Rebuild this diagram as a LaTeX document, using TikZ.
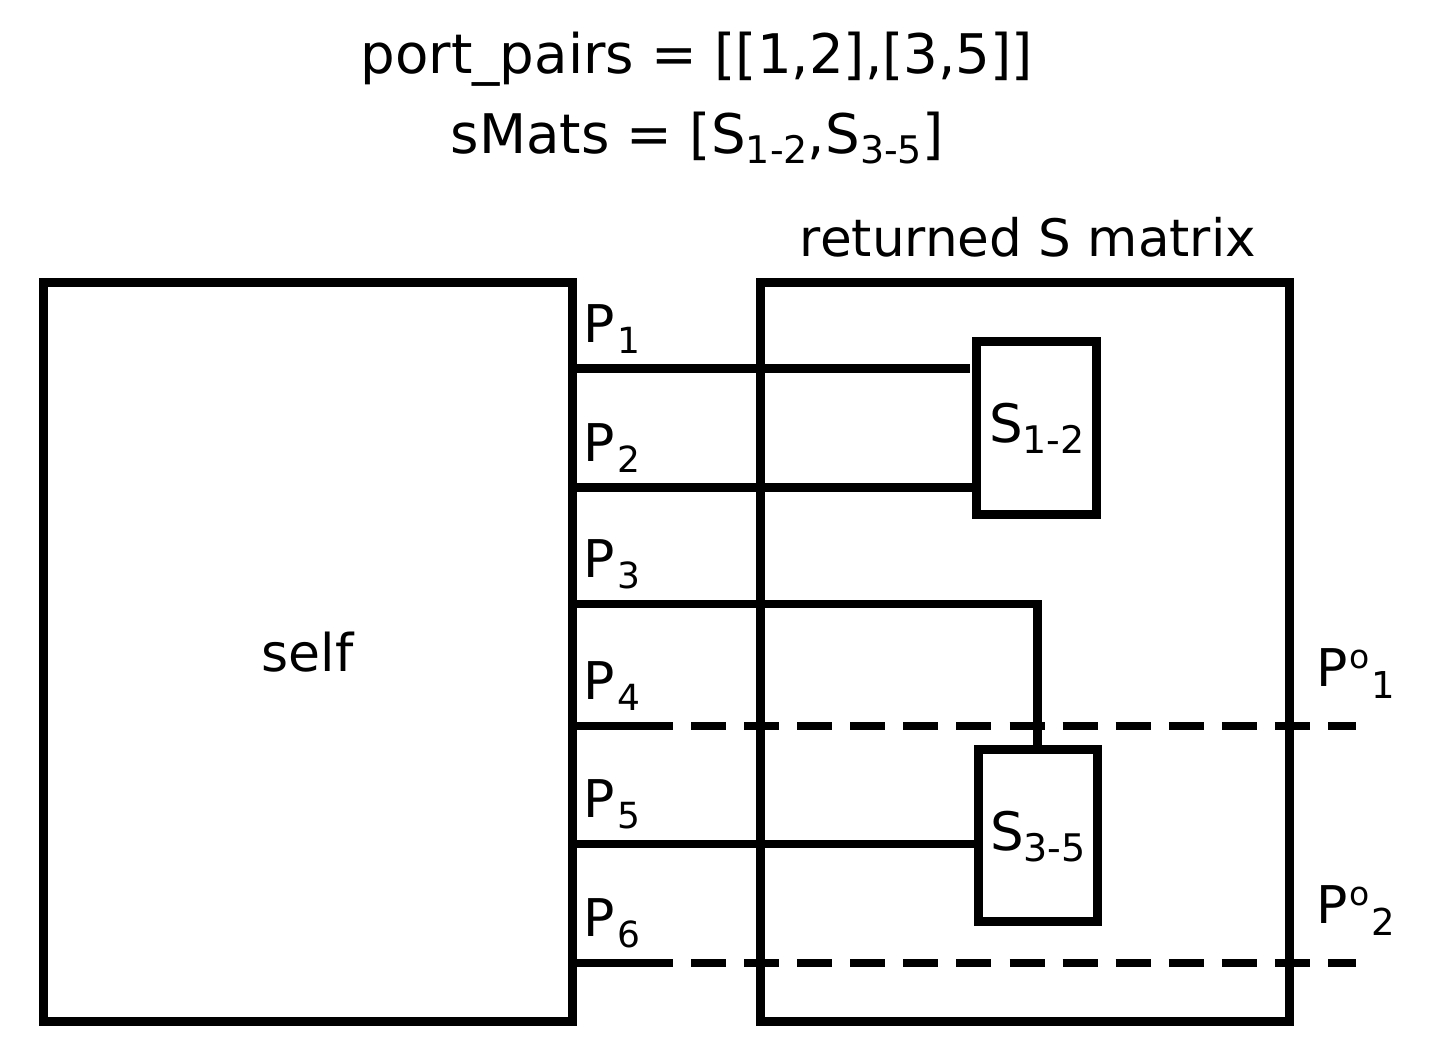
\documentclass[tikz,border=0pt]{standalone}
\usepackage{fontspec}
\setmainfont{DejaVu Sans}
\newcommand\tsub[1]{\raisebox{-5pt}{\fontsize{19pt}{19pt}\selectfont #1}}
\newcommand\lsub[1]{\kern1.2pt\raisebox{-5.5pt}{\fontsize{18pt}{18pt}\selectfont #1}}
\newcommand\ssub[1]{\raisebox{-5.5pt}{\fontsize{19pt}{19pt}\selectfont #1}}
\newcommand\pout[1]{P\kern0.8pt\raisebox{9pt}{\fontsize{16.5pt}{16pt}\selectfont o}\kern0.8pt\raisebox{-6pt}{\fontsize{18.5pt}{18pt}\selectfont #1}}
\begin{document}
\begin{tikzpicture}[x=0.5pt,y=-0.5pt,
  boxnode/.style={draw, line width=4.5pt, inner sep=0pt},
  wire/.style={line width=4.4pt},
  dwire/.style={line width=4.4pt, dash pattern=on 17.5pt off 9.04pt},
  lbl/.style={inner sep=0pt, font=\fontsize{26pt}{30pt}\selectfont},
  ttl/.style={inner sep=0pt, anchor=base, font=\fontsize{27.3pt}{32pt}\selectfont}]
\useasboundingbox (0,0) rectangle (1430,1055);

% titles
\node[ttl] (t1) at (697,73) {port\_pairs = [[1,2],[3,5]]};
\node[ttl] (t2) at (697,153) {sMats = [S\tsub{1-2},S\tsub{3-5}]};

% boxes
\node[boxnode, minimum width=264.25pt, minimum height=369.25pt] (self) at (307.75,651.75) {};
\node[boxnode, minimum width=264.5pt, minimum height=369.5pt] (ret) at (1024.5,651.5) {};
\node[boxnode, minimum width=60pt, minimum height=86.5pt] (S12) at (1036,427.5) {};
\node[boxnode, minimum width=59.5pt, minimum height=86pt] (S35) at (1037.5,835) {};

% labels
\node[lbl, anchor=base] (selfl) at (307.5,671.5) {self};
\node[lbl, anchor=base, font=\fontsize{25.8pt}{30pt}\selectfont] (retl) at (1028,256) {returned S matrix};
\node[lbl, anchor=base, font=\fontsize{26.5pt}{30pt}\selectfont] (S12l) at (1037,442) {S\ssub{1-2}};
\node[lbl, anchor=base, font=\fontsize{26.5pt}{30pt}\selectfont] (S35l) at (1038,850) {S\ssub{3-5}};

% port heights
\coordinate (p1) at (0,368.5);
\coordinate (p2) at (0,487.5);
\coordinate (p3) at (0,604);
\coordinate (p4) at (0,726);
\coordinate (p5) at (0,844);
\coordinate (p6) at (0,963);

% port labels
\node[lbl, anchor=base west] (P1) at (583,342) {P\lsub{1}};
\node[lbl, anchor=base west] (P2) at (583,461) {P\lsub{2}};
\node[lbl, anchor=base west] (P3) at (583,577.5) {P\lsub{3}};
\node[lbl, anchor=base west] (P4) at (583,699.5) {P\lsub{4}};
\node[lbl, anchor=base west] (P5) at (583,817.5) {P\lsub{5}};
\node[lbl, anchor=base west] (P6) at (583,936.5) {P\lsub{6}};
\node[lbl, anchor=base west] (Po1) at (1316.5,686) {\pout{1}};
\node[lbl, anchor=base west] (Po2) at (1316.5,923) {\pout{2}};

% wires
\coordinate (e1) at (970,368.5);
\draw[wire] (self.east |- p1) -- (e1);
\draw[wire] (self.east |- p2) -- (S12.west |- p2);
\draw[wire] (self.east |- p3) -- (S35.north |- p3) -- (S35.north);
\draw[wire] (self.east |- p5) -- (S35.west |- p5);

\coordinate (s4) at (638,726);
\coordinate (e4) at (1356,726);
\coordinate (s6) at (638,963);
\coordinate (e6) at (1356,963);
\draw[wire] (self.east |- p4) -- (s4);
\draw[dwire] (s4) -- (e4);
\draw[wire] (self.east |- p6) -- (s6);
\draw[dwire] (s6) -- (e6);
\end{tikzpicture}
\end{document}
